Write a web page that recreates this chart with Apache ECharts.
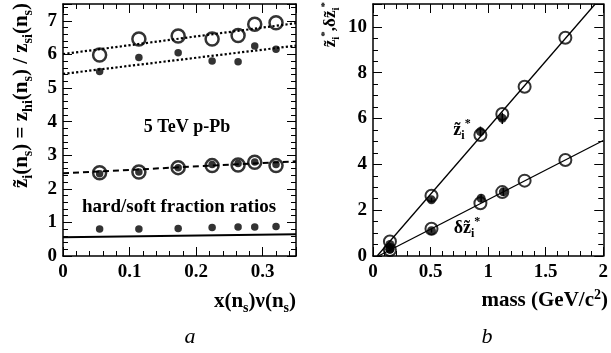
<!DOCTYPE html>
<html>
<head>
<meta charset="utf-8">
<script src="https://cdn.jsdelivr.net/npm/echarts@6/dist/echarts.min.js"></script>
<style>
 html,body{margin:0;padding:0;background:#fff;}
 #chart{width:611px;height:353px;}
</style>
</head>
<body>
<div id="chart"></div>
<script>
// panel a : x(ns)v(ns)
var xA = [0.055, 0.114, 0.173, 0.224, 0.263, 0.288, 0.320];
var openTop = [5.98, 6.46, 6.55, 6.46, 6.56, 6.90, 6.94];
var fillTop = [5.49, 5.91, 6.05, 5.80, 5.78, 6.25, 6.15];
var openMid = [2.48, 2.50, 2.63, 2.69, 2.71, 2.79, 2.69];
var fillMid = [2.45, 2.50, 2.63, 2.72, 2.75, 2.80, 2.72];
var fillLow = [0.80, 0.80, 0.82, 0.85, 0.86, 0.86, 0.88];
var fitTop = [[0, 6.01], [0.35, 6.93]];
var fitTop2 = [[0, 5.42], [0.35, 6.26]];
var fitMid = [[0, 2.46], [0.35, 2.82]];
var fitLow = [[0, 0.56], [0.35, 0.65]];

// panel b : mass
var massOpen = [0.147, 0.508, 0.933, 1.123, 1.317, 1.671];
var zOpen = [0.63, 2.63, 5.28, 6.20, 7.39, 9.53];
var dzOpen = [0.26, 1.19, 2.30, 2.79, 3.29, 4.19];
var massFill = [0.147, 0.147, 0.508, 0.933, 1.123];
var zFill = [0.29, 0.50, 2.45, 5.43, 6.01];
var zErr = [0.05, 0.05, 0.10, 0.22, 0.25];
var dzMass = [0.147, 0.508, 0.939, 1.132];
var dzFill = [0.30, 1.10, 2.52, 2.80];
var dzErr = [0.05, 0.08, 0.18, 0.18];
var zLine = [[0.036, 0], [1.93, 11]];
var dzLine = [[0.047, 0], [2.0, 5.04]];

function pairs(xs, ys) { return xs.map(function (x, i) { return [x, ys[i]]; }); }
function errs(xs, ys, es) { return xs.map(function (x, i) { return [x, ys[i] - es[i], ys[i] + es[i]]; }); }

var font = '"Liberation Serif", "DejaVu Serif", serif';
var black = '#000';

function xAx(gi, max, interval, split, pos, showMax) {
  return {
    gridIndex: gi, type: 'value', min: 0, max: max, interval: interval, position: pos,
    axisLine: { show: true, onZero: false, lineStyle: { color: black, width: 1.5 } },
    axisTick: { show: true, inside: true, length: 9, lineStyle: { color: black, width: 1 } },
    minorTick: { show: true, splitNumber: split, length: 5, lineStyle: { color: black, width: 1 } },
    splitLine: { show: false },
    axisLabel: { show: pos === 'bottom', margin: 7, color: black, fontFamily: font, fontWeight: 'bold', fontSize: 19, showMaxLabel: !!showMax }
  };
}
function yAx(gi, max, interval, split, pos) {
  var a = xAx(gi, max, interval, split, pos);
  a.axisLabel.show = pos === 'left';
  a.axisLabel.margin = 6;
  return a;
}

function scat(xi, yi, data, size, filled, z, bw) {
  return {
    type: 'scatter', xAxisIndex: xi, yAxisIndex: yi, data: data, symbol: 'circle', symbolSize: size, z: z || 3,
    itemStyle: filled ? { color: black } : { color: 'rgba(0,0,0,0)', borderColor: black, borderWidth: bw || 2 }
  };
}
function fit(xi, yi, data, type, w) {
  return {
    type: 'line', xAxisIndex: xi, yAxisIndex: yi, data: data, symbol: 'none', clip: true, z: 2,
    lineStyle: { color: black, width: w, type: type }
  };
}
function errBar(xi, yi, data) {
  return {
    type: 'custom', xAxisIndex: xi, yAxisIndex: yi, data: data, z: 4,
    renderItem: function (params, api) {
      var lo = api.coord([api.value(0), api.value(1)]);
      var hi = api.coord([api.value(0), api.value(2)]);
      return { type: 'line', shape: { x1: lo[0], y1: lo[1], x2: hi[0], y2: hi[1] }, style: { stroke: black, lineWidth: 1.5 } };
    }
  };
}

var txt = { fontFamily: font, fontWeight: 'bold', fill: black };
var rich = {
  n: { fontFamily: font, fontWeight: 'bold', fontSize: 18, lineHeight: 24, verticalAlign: 'middle' },
  s: { fontFamily: font, fontWeight: 'bold', fontSize: 12, lineHeight: 10, verticalAlign: 'bottom' },
  p: { fontFamily: font, fontWeight: 'bold', fontSize: 12, lineHeight: 10, verticalAlign: 'top' }
};
var richBig = {
  n: { fontFamily: font, fontWeight: 'bold', fontSize: 21, lineHeight: 26, verticalAlign: 'middle' },
  s: { fontFamily: font, fontWeight: 'bold', fontSize: 14, lineHeight: 11, verticalAlign: 'bottom' },
  p: { fontFamily: font, fontWeight: 'bold', fontSize: 14, lineHeight: 11, verticalAlign: 'top' }
};
var richSmall = {
  n: { fontFamily: font, fontWeight: 'bold', fontSize: 17, lineHeight: 22, verticalAlign: 'middle' },
  s: { fontFamily: font, fontWeight: 'bold', fontSize: 11, lineHeight: 9, verticalAlign: 'bottom' },
  p: { fontFamily: font, fontWeight: 'bold', fontSize: 11, lineHeight: 9, verticalAlign: 'top' }
};

var option = {
  backgroundColor: '#fff',
  animation: false,
  grid: [
    { left: 63, right: 315, top: 4, bottom: 97 },
    { left: 373, right: 3, top: 4, bottom: 97 }
  ],
  xAxis: [
    xAx(0, 0.35, 0.1, 5, 'bottom'), xAx(0, 0.35, 0.1, 5, 'top'),
    xAx(1, 2, 0.5, 5, 'bottom', true), xAx(1, 2, 0.5, 5, 'top')
  ],
  yAxis: [
    yAx(0, 7.5, 1, 5, 'left'), yAx(0, 7.5, 1, 5, 'right'),
    yAx(1, 11, 2, 4, 'left'), yAx(1, 11, 2, 4, 'right')
  ],
  series: [
    fit(0, 0, fitTop, 'dotted', 2.2),
    fit(0, 0, fitTop2, 'dotted', 2.2),
    fit(0, 0, fitMid, [6, 4], 2),
    fit(0, 0, fitLow, 'solid', 2),
    scat(0, 0, pairs(xA, openTop), 13, false, 3, 2.5),
    scat(0, 0, pairs(xA, fillTop), 7.5, true),
    scat(0, 0, pairs(xA, openMid), 13, false, 3, 2.5),
    scat(0, 0, pairs(xA, fillMid), 7.5, true, 4),
    scat(0, 0, pairs(xA, fillLow), 7.5, true),
    fit(2, 2, zLine, 'solid', 1.3),
    fit(2, 2, dzLine, 'solid', 1.3),
    errBar(2, 2, errs(massFill, zFill, zErr)),
    errBar(2, 2, errs(dzMass, dzFill, dzErr)),
    scat(2, 2, pairs(massFill, zFill), 9, true, 4),
    scat(2, 2, pairs(dzMass, dzFill), 9, true, 4),
    scat(2, 2, pairs(massOpen, zOpen), 12, false, 5, 2),
    scat(2, 2, pairs(massOpen, dzOpen), 12, false, 5, 2)
  ],
  graphic: [
    { type: 'text', x: 187, y: 127, style: Object.assign({ text: '5 TeV p-Pb', fontSize: 18, align: 'center', verticalAlign: 'middle' }, txt) },
    { type: 'text', x: 179, y: 207, style: Object.assign({ text: 'hard/soft fraction ratios', fontSize: 19, align: 'center', verticalAlign: 'middle' }, txt) },
    { type: 'text', x: 22, y: 3, rotation: Math.PI / 2,
      style: { text: '{n|z\u0303}{s|i}{n|(n}{s|s}{n|) = z}{s|hi}{n|(n}{s|s}{n|) / z}{s|si}{n|(n}{s|s}{n|)}', rich: richBig, align: 'right', verticalAlign: 'middle', fill: black } },
    { type: 'text', x: 296, y: 302,
      style: { text: '{n|x(n}{s|s}{n|)\u03bd(n}{s|s}{n|)}', rich: richBig, align: 'right', verticalAlign: 'middle', fill: black } },
    { type: 'text', x: 190, y: 337, style: { text: 'a', fontFamily: font, fontStyle: 'italic', fontSize: 22, align: 'center', verticalAlign: 'middle', fill: black } },
    { type: 'text', x: 331, y: 2, rotation: Math.PI / 2,
      style: { text: '{n|z\u0303}{s|i}{p|*}{n|,\u03b4z\u0303}{s|i}{p|*}', rich: richSmall, align: 'right', verticalAlign: 'middle', fill: black } },
    { type: 'text', x: 462, y: 130,
      style: { text: '{n|z\u0303}{s|i}{p|*}', rich: rich, align: 'center', verticalAlign: 'middle', fill: black } },
    { type: 'text', x: 467, y: 228,
      style: { text: '{n|\u03b4z\u0303}{s|i}{p|*}', rich: rich, align: 'center', verticalAlign: 'middle', fill: black } },
    { type: 'text', x: 608, y: 301,
      style: { text: '{n|mass (GeV/c}{p|2}{n|)}', rich: richBig, align: 'right', verticalAlign: 'middle', fill: black } },
    { type: 'text', x: 487, y: 337, style: { text: 'b', fontFamily: font, fontStyle: 'italic', fontSize: 22, align: 'center', verticalAlign: 'middle', fill: black } }
  ]
};

var chart = echarts.init(document.getElementById('chart'));
chart.setOption(option);
</script>
</body>
</html>
